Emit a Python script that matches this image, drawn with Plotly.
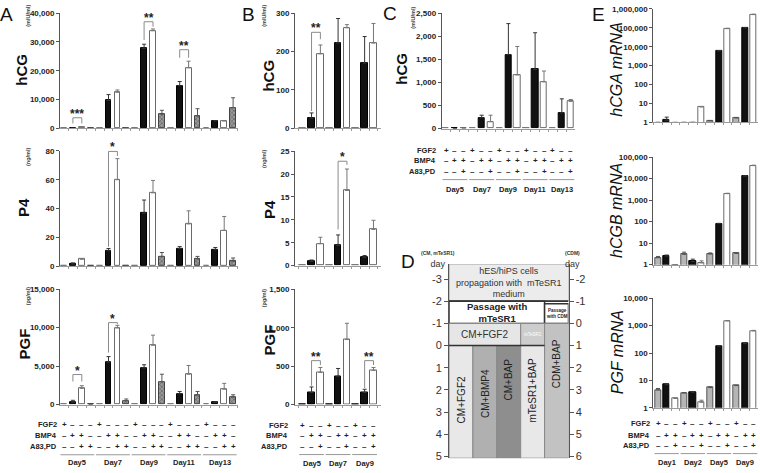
import math
import plotly.graph_objects as go

W, H = 760, 473
FONT = "Arial, Liberation Sans, sans-serif"

# ---------------- DATA ----------------
# Panel A (conditions: FGF2, BMP4, BMP4+A83/PD, A83/PD)
A_days = ["Day5", "Day7", "Day9", "Day11", "Day13"]
A_hCG_FGF2 = [0, 0, 0, 0, 0]
A_hCG_BMP4 = [60, 9650, 27800, 14800, 2600]
A_hCG_BMP4_err = [0, 2050, 1400, 1450, 0]
A_hCG_BAP = [250, 12500, 33900, 21000, 2600]
A_hCG_BAP_err = [0, 800, 600, 2300, 0]
A_hCG_A83 = [0, 150, 4900, 4300, 7150]
A_hCG_A83_err = [0, 0, 1350, 2500, 3450]

A_P4_FGF2 = [0, 0, 0, 0, 0]
A_P4_BMP4 = [1.5, 10.7, 36.8, 12.3, 11.4]
A_P4_BMP4_err = [0.8, 1.6, 9.1, 1.3, 1.6]
A_P4_BAP = [4.8, 60, 50.9, 29.3, 24.8]
A_P4_BAP_err = [0.4, 14.6, 8.6, 9.1, 9.7]
A_P4_A83 = [0, 0.5, 6.8, 5.0, 3.4]
A_P4_A83_err = [0, 0, 2.7, 1.8, 2.3]

A_PGF_FGF2 = [0, 60, 0, 0, 0]
A_PGF_BMP4 = [300, 5500, 4750, 1400, 300]
A_PGF_BMP4_err = [250, 730, 420, 300, 0]
A_PGF_BAP = [2100, 9960, 7710, 3940, 1990]
A_PGF_BAP_err = [350, 340, 1310, 1140, 760]
A_PGF_A83 = [0, 500, 2970, 1230, 970]
A_PGF_A83_err = [0, 220, 970, 470, 300]

# Panel B (conditions: FGF2, BMP4, BMP4+A83/PD)
B_days = ["Day5", "Day7", "Day9"]
B_hCG_FGF2 = [0, 0, 0]
B_hCG_BMP4 = [27, 222, 170]
B_hCG_BMP4_err = [13, 64, 69]
B_hCG_BAP = [194, 262, 222]
B_hCG_BAP_err = [23, 8, 51]

B_P4_FGF2 = [0, 0, 0]
B_P4_BMP4 = [0.93, 4.4, 1.8]
B_P4_BMP4_err = [0.3, 2.3, 0.4]
B_P4_BAP = [4.8, 16.4, 7.9]
B_P4_BAP_err = [1.4, 4.7, 2.0]

B_PGF_FGF2 = [0, 4, 0]
B_PGF_BMP4 = [157, 369, 157]
B_PGF_BMP4_err = [72, 101, 42]
B_PGF_BAP = [419, 847, 445]
B_PGF_BAP_err = [64, 212, 38]

# Panel C
C_days = ["Day5", "Day7", "Day9", "Day11", "Day13"]
C_hCG_FGF2 = [0, 0, 0, 0, 0]
C_hCG_BMP4 = [0, 234, 1600, 1282, 340]
C_hCG_BMP4_err = [0, 56, 673, 793, 304]
C_hCG_BAP = [0, 149, 1161, 1013, 588]
C_hCG_BAP_err = [0, 141, 616, 233, 42]

# Panel E (log scale)
E_days = ["Day1", "Day2", "Day5", "Day9"]
E_hCGA_FGF2 = [1, 1, 1.2, 1.7]
E_hCGA_FGF2_err = [0, 0, 0.05, 0.1]
E_hCGA_BMP4 = [1.3, 1, 6000, 100000]
E_hCGA_BMP4_err = [0.6, 0, 300, 4000]
E_hCGA_BAP = [1, 6.5, 90000, 500000]
E_hCGA_BAP_err = [0, 0.4, 4000, 25000]

E_hCGB_FGF2 = [2.1, 3.0, 3.1, 3.3]
E_hCGB_FGF2_err = [0.3, 0.8, 0.4, 0.2]
E_hCGB_BMP4 = [2.5, 1.4, 80, 13000]
E_hCGB_BMP4_err = [0.3, 0.4, 3, 600]
E_hCGB_BAP = [1, 1.2, 2000, 40000]
E_hCGB_BAP_err = [0, 0.3, 80, 2000]

E_PGF_FGF2 = [4.5, 3.5, 5.5, 6.5]
E_PGF_FGF2_err = [0.6, 0.1, 0.3, 0.1]
E_PGF_BMP4 = [7.0, 3.7, 180, 220]
E_PGF_BMP4_err = [0.3, 0.2, 8, 10]
E_PGF_BAP = [2.2, 1.6, 1500, 650]
E_PGF_BAP_err = [0.1, 0.3, 50, 25]

# table signs
SIGNS4 = [["+", "–", "–", "–"], ["–", "+", "+", "–"], ["–", "–", "+", "+"]]
SIGNS3 = [["+", "–", "–"], ["–", "+", "+"], ["–", "–", "+"]]
ROW_NAMES = ["FGF2", "BMP4", "A83,PD"]

# ---------------- STYLES ----------------
ST = {
    "fgf": dict(color="#aaaaaa", line=dict(color="#777", width=1)),
    "black": dict(color="#111111", line=dict(color="#000", width=1)),
    "white": dict(color="#ffffff", line=dict(color="#6a6a6a", width=1)),
    "hatch": dict(color="#7e7e7e", line=dict(color="#444", width=1),
                  pattern=dict(shape="x", fgcolor="#2a2a2a", bgcolor="#9a9a9a", size=3, solidity=0.4)),
    "gray": dict(color="#b5b5b5", line=dict(color="#555", width=1)),
}
ERRC = {"fgf": "#777", "black": "#333", "white": "#777", "hatch": "#555", "gray": "#555"}


def px_x(p):
    return p / W


def px_y(p):
    return 1 - p / H


fig = go.Figure()
layout = {}
AX = {}
annotations = []
shapes = []


def sfx(n):
    return "" if n == 1 else str(n)


def set_axes(n, xd, yd, xr, yr, nbars, log=False, tickvals=None, ticktext=None):
    s = sfx(n)
    AX[n] = dict(yd=yd, yr=yr, log=log)
    layout["xaxis" + s] = dict(
        domain=[px_x(xd[0]), px_x(xd[1])], range=xr, anchor="y" + s,
        showgrid=False, zeroline=False, showline=True, linecolor="#9a9a9a", linewidth=1,
        ticks="outside", ticklen=2, tickcolor="#9a9a9a",
        tickvals=[i - 0.5 for i in range(nbars + 1)], showticklabels=False, fixedrange=True)
    layout["yaxis" + s] = dict(
        domain=[px_y(yd[1]), px_y(yd[0])], range=yr, anchor="x" + s,
        type="log" if log else "linear",
        showgrid=False, zeroline=False, showline=True, linecolor="#555", linewidth=1,
        ticks="outside", ticklen=3, tickcolor="#555",
        tickvals=tickvals, ticktext=ticktext,
        tickfont=dict(family=FONT, size=8, color="#222", weight="bold"), fixedrange=True)


def val2paper(n, v):
    a = AX[n]
    r0, r1 = a["yr"]
    if a["log"]:
        f = (math.log10(v) - r0) / (r1 - r0)
    else:
        f = (v - r0) / (r1 - r0)
    yb, yt = px_y(a["yd"][1]), px_y(a["yd"][0])
    return yb + f * (yt - yb)


def add_bars(n, ncond, series, width):
    s = sfx(n)
    for c, (vals, errs, style) in enumerate(series):
        xs = [d * ncond + c for d in range(len(vals))]
        kw = {}
        if errs is not None:
            kw["error_y"] = dict(type="data", array=errs, arrayminus=[0] * len(errs),
                                 symmetric=False, color=ERRC[style], thickness=1, width=2)
        fig.add_trace(go.Bar(x=xs, y=vals, width=width, marker=ST[style],
                             xaxis="x" + s, yaxis="y" + s, showlegend=False, **kw))


def add_table(n, ncond, days, signs, label_right, rows_py, line_py, day_py):
    s = sfx(n)
    for r, name in enumerate(ROW_NAMES):
        annotations.append(dict(x=px_x(label_right), y=px_y(rows_py[r]), xref="paper", yref="paper",
                                text="<b>%s</b>" % name, showarrow=False, xanchor="right",
                                yanchor="middle", font=dict(family=FONT, size=7.5, color="#222")))
        for d in range(len(days)):
            for c in range(ncond):
                annotations.append(dict(x=d * ncond + c, y=px_y(rows_py[r]), xref="x" + s, yref="paper",
                                        text="<b>%s</b>" % signs[r][c], showarrow=False,
                                        xanchor="center", yanchor="middle",
                                        font=dict(family=FONT, size=8, color="#222")))
    for d, day in enumerate(days):
        x0 = d * ncond - 0.4
        x1 = d * ncond + ncond - 1 + 0.4
        shapes.append(dict(type="line", xref="x" + s, yref="paper", x0=x0, x1=x1,
                           y0=px_y(line_py), y1=px_y(line_py), line=dict(color="#999", width=1)))
        annotations.append(dict(x=(x0 + x1) / 2, y=px_y(day_py), xref="x" + s, yref="paper",
                                text="<b>%s</b>" % day, showarrow=False, xanchor="center",
                                yanchor="middle", font=dict(family=FONT, size=7.5, color="#222")))


def bracket(n, x0, x1, ytop, yleft, yright, stars):
    s = sfx(n)
    pt, pl, pr = val2paper(n, ytop), val2paper(n, yleft), val2paper(n, yright)
    shapes.append(dict(type="path", xref="x" + s, yref="paper",
                       path="M %s,%s L %s,%s L %s,%s L %s,%s" % (x0, pl, x0, pt, x1, pt, x1, pr),
                       line=dict(color="#8a8a8a", width=1)))
    annotations.append(dict(x=(x0 + x1) / 2, y=pt, xref="x" + s, yref="paper", text="<b>%s</b>" % stars,
                            showarrow=False, xanchor="center", yanchor="bottom", yshift=-5,
                            font=dict(family=FONT, size=12, color="#222")))


def text_px(x, y, t, size, angle=0, bold=False, italic=False, color="#222", xanchor="center"):
    if bold:
        t = "<b>%s</b>" % t
    if italic:
        t = "<i>%s</i>" % t
    annotations.append(dict(x=px_x(x), y=px_y(y), xref="paper", yref="paper", text=t, showarrow=False,
                            textangle=angle, xanchor=xanchor, yanchor="middle",
                            font=dict(family=FONT, size=size, color=color)))


def fmt(v):
    return "{:,}".format(v)


# ---------------- PANEL A ----------------
A_xr = [-0.45, 19.55]
t = [0, 10000, 20000, 30000, 40000]
set_axes(1, (60, 238), (9.3, 126.7), A_xr, [0, 40000], 20, tickvals=t, ticktext=[fmt(v) for v in t])
t = [0, 20, 40, 60, 80]
set_axes(2, (60, 238), (149.7, 267.3), A_xr, [0, 80], 20, tickvals=t, ticktext=[fmt(v) for v in t])
t = [0, 5000, 10000, 15000]
set_axes(3, (60, 238), (290.7, 408.3), A_xr, [0, 15000], 20, tickvals=t, ticktext=[fmt(v) for v in t])

add_bars(1, 4, [(A_hCG_FGF2, None, "fgf"), (A_hCG_BMP4, A_hCG_BMP4_err, "black"),
                (A_hCG_BAP, A_hCG_BAP_err, "white"), (A_hCG_A83, A_hCG_A83_err, "hatch")], 0.65)
add_bars(2, 4, [(A_P4_FGF2, None, "fgf"), (A_P4_BMP4, A_P4_BMP4_err, "black"),
                (A_P4_BAP, A_P4_BAP_err, "white"), (A_P4_A83, A_P4_A83_err, "hatch")], 0.65)
add_bars(3, 4, [(A_PGF_FGF2, None, "fgf"), (A_PGF_BMP4, A_PGF_BMP4_err, "black"),
                (A_PGF_BAP, A_PGF_BAP_err, "white"), (A_PGF_A83, A_PGF_A83_err, "hatch")], 0.65)
add_table(3, 4, A_days, SIGNS4, 59, (429, 440, 451), 459.5, 467.5)

bracket(1, 1, 2, 3650, 1700, 1700, "***")
bracket(1, 9, 10, 37000, 30700, 35300, "**")
bracket(1, 13, 14, 27300, 24500, 24500, "**")
bracket(2, 5, 6, 79.6, 13.5, 76.5, "*")
bracket(3, 1, 2, 3900, 3000, 3000, "*")
bracket(3, 5, 6, 10650, 6750, 10450, "*")

# ---------------- PANEL B ----------------
B_xr = [-0.87, 8.85]
t = [0, 100, 200, 300]
set_axes(4, (295, 381), (9.3, 126.7), B_xr, [0, 300], 9, tickvals=t, ticktext=[fmt(v) for v in t])
t = [0, 5, 10, 15, 20, 25]
set_axes(5, (295, 381), (150, 266.7), B_xr, [0, 25], 9, tickvals=t, ticktext=[fmt(v) for v in t])
t = [0, 500, 1000, 1500]
set_axes(6, (295, 381), (291, 408.3), B_xr, [0, 1500], 9, tickvals=t, ticktext=[fmt(v) for v in t])

add_bars(4, 3, [(B_hCG_FGF2, None, "fgf"), (B_hCG_BMP4, B_hCG_BMP4_err, "black"),
                (B_hCG_BAP, B_hCG_BAP_err, "white")], 0.75)
add_bars(5, 3, [(B_P4_FGF2, None, "fgf"), (B_P4_BMP4, B_P4_BMP4_err, "black"),
                (B_P4_BAP, B_P4_BAP_err, "white")], 0.75)
add_bars(6, 3, [(B_PGF_FGF2, None, "black"), (B_PGF_BMP4, B_PGF_BMP4_err, "black"),
                (B_PGF_BAP, B_PGF_BAP_err, "white")], 0.75)
add_table(6, 3, B_days, SIGNS3, 290, (429.3, 440, 450.7), 459.3, 468.3)

bracket(4, 1, 2, 250, 45, 232, "**")
bracket(5, 4, 5, 22.8, 7.9, 22.0, "*")
bracket(6, 1, 2, 572, 245, 515, "**")
bracket(6, 7, 8, 572, 215, 515, "**")

# ---------------- PANEL C ----------------
t = [0, 500, 1000, 1500, 2000, 2500]
set_axes(7, (441.7, 575), (9.3, 127), [-0.49, 14.48], [0, 2500], 15, tickvals=t,
         ticktext=[fmt(v) for v in t])
add_bars(7, 3, [(C_hCG_FGF2, None, "fgf"), (C_hCG_BMP4, C_hCG_BMP4_err, "black"),
                (C_hCG_BAP, C_hCG_BAP_err, "white")], 0.7)
add_table(7, 3, C_days, SIGNS3, 438, (149, 159.5, 171), 179, 188.7)

# ---------------- PANEL E ----------------
E_xr = [-0.54, 11.49]
t = [1, 10, 100, 1000, 10000, 100000, 1000000]
set_axes(9, (653.3, 758), (5, 120.7), E_xr, [0, 6], 12, log=True, tickvals=t, ticktext=[fmt(v) for v in t])
t = [1, 10, 100, 1000, 10000, 100000]
set_axes(10, (653.3, 758), (156, 265.7), E_xr, [0, 5], 12, log=True, tickvals=t, ticktext=[fmt(v) for v in t])
t = [1, 10, 100, 1000, 10000]
set_axes(11, (653.3, 758), (300, 411.7), E_xr, [0, 4], 12, log=True, tickvals=t, ticktext=[fmt(v) for v in t])

add_bars(9, 3, [(E_hCGA_FGF2, E_hCGA_FGF2_err, "gray"), (E_hCGA_BMP4, E_hCGA_BMP4_err, "black"),
                (E_hCGA_BAP, E_hCGA_BAP_err, "white")], 0.7)
add_bars(10, 3, [(E_hCGB_FGF2, E_hCGB_FGF2_err, "gray"), (E_hCGB_BMP4, E_hCGB_BMP4_err, "black"),
                 (E_hCGB_BAP, E_hCGB_BAP_err, "white")], 0.7)
add_bars(11, 3, [(E_PGF_FGF2, E_PGF_FGF2_err, "gray"), (E_PGF_BMP4, E_PGF_BMP4_err, "black"),
                 (E_PGF_BAP, E_PGF_BAP_err, "white")], 0.7)
add_table(11, 3, E_days, SIGNS3, 652, (427.7, 439.5, 450), 458.3, 467.7)

# ---------------- PANEL D (diagram) ----------------
D_left_ticks = [-3, -2, -1, 0, 1, 2, 3, 4, 5]
D_right_ticks = [-2, -1, 0, 1, 2, 3, 4, 5, 6]
D_yr = [5.08, -3.68]
layout["xaxis8"] = dict(domain=[px_x(449), px_x(568.5)], range=[0, 5], anchor="y8", visible=False,
                        fixedrange=True)
layout["yaxis8"] = dict(domain=[px_y(463), px_y(265)], range=D_yr, anchor="x8", showgrid=False,
                        zeroline=False, showline=True, linecolor="#555", linewidth=1, ticks="outside",
                        ticklen=4, tickcolor="#555", tickvals=D_left_ticks,
                        ticktext=[str(v) for v in D_left_ticks],
                        tickfont=dict(family=FONT, size=11, color="#333"), fixedrange=True)
layout["yaxis12"] = dict(domain=[px_y(463), px_y(265)], range=[D_yr[0] + 1, D_yr[1] + 1], anchor="x8",
                         overlaying="y8", side="right", showgrid=False, zeroline=False, showline=True,
                         linecolor="#555", linewidth=1, ticks="outside", ticklen=4, tickcolor="#555",
                         tickvals=D_right_ticks, ticktext=[str(v) for v in D_right_ticks],
                         tickfont=dict(family=FONT, size=11, color="#333"), fixedrange=True)
# invisible traces to activate the diagram axes
fig.add_trace(go.Scatter(x=[0, 5], y=[0, 0], xaxis="x8", yaxis="y8", mode="markers",
                         marker=dict(opacity=0), showlegend=False, hoverinfo="skip"))
fig.add_trace(go.Scatter(x=[0, 5], y=[0, 0], xaxis="x8", yaxis="y12", mode="markers",
                         marker=dict(opacity=0), showlegend=False, hoverinfo="skip"))

D_boxes = [
    (0, 5, -3.68, -2, "#ececec", "#999", 1),
    (0, 4, -2, -1, "#ffffff", "#333", 1.5),
    (4, 5, -1.88, -1, "#ffffff", "#333", 1.5),
    (0, 3, -1, 0, "#e6e6e6", "#888", 1),
    (3, 4, -1, 0, "#cdcdcd", "#888", 1),
    (0, 1, 0, 5.08, "#e8e8e8", "#888", 1),
    (1, 2, 0, 5.08, "#b0b0b0", "#888", 1),
    (2, 3, 0, 5.08, "#8e8e8e", "#888", 1),
    (3, 4, 0, 5.08, "#e8e8e8", "#888", 1),
    (4, 5, -1, 5.08, "#c2c2c2", "#888", 1),
]
for x0, x1, y0, y1, fc, lc, lw in D_boxes:
    shapes.append(dict(type="rect", xref="x8", yref="y8", x0=x0, x1=x1, y0=y0, y1=y1,
                       fillcolor=fc, line=dict(color=lc, width=lw), layer="above"))
shapes.append(dict(type="line", xref="x8", yref="y8", x0=0, x1=5, y0=-2, y1=-2,
                   line=dict(color="#333", width=1.8), layer="above"))
shapes.append(dict(type="line", xref="x8", yref="y8", x0=0, x1=4, y0=0, y1=0,
                   line=dict(color="#333", width=1.5), layer="above"))

D_texts = [
    (2.5, -2.86, "hES/hiPS cells<br>propagation with  mTeSR1<br>medium", 9, 0, "#333"),
    (2.0, -1.5, "<b>Passage with<br>mTeSR1</b>", 9.5, 0, "#222"),
    (4.5, -1.44, "<b>Passage<br>with CDM</b>", 4.5, 0, "#222"),
    (1.5, -0.5, "CM+FGF2", 10, 0, "#333"),
    (3.5, -0.5, "mTeSR1", 4.5, 0, "#ffffff"),
    (0.5, 2.43, "CM+FGF2", 10, -90, "#222"),
    (1.5, 2.15, "CM+BMP4", 10, -90, "#222"),
    (2.5, 1.54, "CM+BAP", 10, -90, "#222"),
    (3.5, 2.0, "mTeSR1+BAP", 10, -90, "#222"),
    (4.5, 0.82, "CDM+BAP", 10, -90, "#222"),
]
for x, y, tx, sz, ang, col in D_texts:
    annotations.append(dict(x=x, y=y, xref="x8", yref="y8", text=tx, showarrow=False, textangle=ang,
                            xanchor="center", yanchor="middle",
                            font=dict(family=FONT, size=sz, color=col)))

# stacked axis captions for the diagram: small unit line above "day"
annotations.append(dict(x=px_x(438), y=px_y(260), xref="paper", yref="paper", showarrow=False,
                        text="<b><span style='font-size:5px'>(CM, mTeSR1)</span></b><br>day",
                        xanchor="center", yanchor="middle",
                        font=dict(family=FONT, size=9, color="#333")))
annotations.append(dict(x=px_x(572.5), y=px_y(260), xref="paper", yref="paper", showarrow=False,
                        text="<b><span style='font-size:5px'>(CDM)</span></b><br>day",
                        xanchor="center", yanchor="middle",
                        font=dict(family=FONT, size=9, color="#333")))

# ---------------- TITLES / LABELS ----------------
for x, y, s in [(7, 11, "A"), (248, 11, "B"), (390, 10, "C"), (408, 262, "D"), (598, 11, "E")]:
    text_px(x, y, s, 19, color="#111")

for x, y, s in [(22, 67, "hCG"), (23, 208, "P4"), (24, 347, "PGF"),
                (269, 73, "hCG"), (269, 210, "P4"), (269, 343, "PGF"),
                (402, 66, "hCG")]:
    text_px(x, y, s, 15, angle=-90, bold=True, color="#111")

for x, y, s in [(617, 67, "hCGA mRNA"), (617, 211, "hCGB mRNA"), (617, 355, "PGF mRNA")]:
    text_px(x, y, s, 16, angle=-90, italic=True, color="#111")

for x, y, s in [(28, 12, "(mIU/ml)"), (28, 156, "(ng/ml)"), (28, 298, "(pg/ml)"),
                (264, 12, "(mIU/ml)"), (264, 158, "(ng/ml)"), (264, 300, "(pg/ml)"),
                (413, 14, "(mIU/ml)")]:
    text_px(x, y, s, 5.5, angle=-90, bold=True, color="#444")

layout.update(dict(width=W, height=H, autosize=False, margin=dict(l=0, r=0, t=0, b=0),
                   paper_bgcolor="white", plot_bgcolor="rgba(0,0,0,0)", barmode="overlay",
                   bargap=0, showlegend=False, annotations=annotations, shapes=shapes,
                   font=dict(family=FONT)))
fig.update_layout(**layout)
fig.write_html("out.html", config={"displayModeBar": False},
               post_script="document.body.style.margin='0';document.body.style.overflow='hidden';")
